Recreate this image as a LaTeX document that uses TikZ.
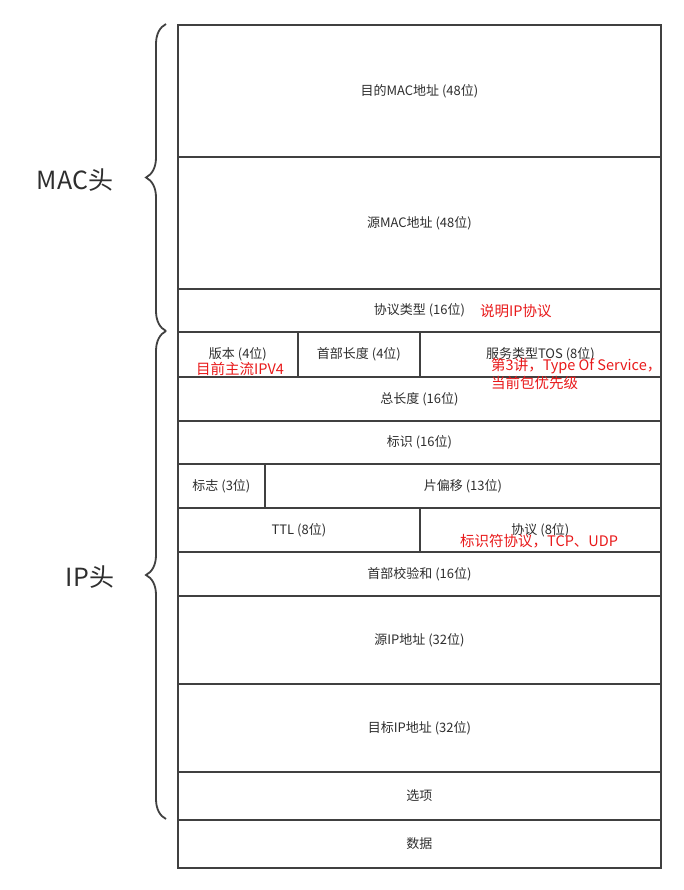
\documentclass[tikz,border=0pt]{standalone}
\usepackage{fontspec}
\setmainfont{Noto Sans CJK SC}
\usetikzlibrary{decorations.pathreplacing}
\definecolor{lineg}{HTML}{404040}
\definecolor{txtg}{HTML}{2E2E2E}
\definecolor{annred}{HTML}{E8191A}
\begin{document}
\begin{tikzpicture}[x=1pt,y=1pt,
  field/.style={draw=lineg, line width=1.8pt, anchor=north west, inner sep=0pt,
    font=\fontsize{13}{15}\selectfont, text=txtg},
  ann/.style={anchor=west, inner sep=0pt, text=annred, font=\fontsize{14.5}{18}\selectfont, align=left},
  hdr/.style={text=txtg, font=\fontsize{25}{29}\selectfont, inner sep=0pt},
  bracestyle/.style={draw=lineg, line width=1.8pt, decorate, decoration={brace, amplitude=20pt}}]
\useasboundingbox (0,0) rectangle (684,-890);
% fields
\node[field, minimum width=483pt, minimum height=132pt] (dmac) at (177,-24) {目的MAC地址 (48位)};
\node[field, minimum width=483pt, minimum height=132pt] (smac) at (177,-156) {源MAC地址 (48位)};
\node[field, minimum width=483pt, minimum height=43pt] (ptype) at (177,-288) {协议类型 (16位)};
\node[field, minimum width=120pt, minimum height=45pt] (ver) at (177,-331) {版本 (4位)};
\node[field, minimum width=122pt, minimum height=45pt] (hlen) at (297,-331) {首部长度 (4位)};
\node[field, minimum width=241pt, minimum height=45pt] (tos) at (419,-331) {服务类型TOS (8位)};
\node[field, minimum width=483pt, minimum height=44pt] (tlen) at (177,-376) {总长度 (16位)};
\node[field, minimum width=483pt, minimum height=43pt] (ident) at (177,-420) {标识 (16位)};
\node[field, minimum width=87pt, minimum height=44pt] (flag) at (177,-463) {标志 (3位)};
\node[field, minimum width=396pt, minimum height=44pt] (frag) at (264,-463) {片偏移 (13位)};
\node[field, minimum width=242pt, minimum height=44pt] (ttl) at (177,-507) {TTL (8位)};
\node[field, minimum width=241pt, minimum height=44pt] (proto) at (419,-507) {协议 (8位)};
\node[field, minimum width=483pt, minimum height=44pt] (csum) at (177,-551) {首部校验和 (16位)};
\node[field, minimum width=483pt, minimum height=88pt] (sip) at (177,-595) {源IP地址 (32位)};
\node[field, minimum width=483pt, minimum height=88pt] (dip) at (177,-683) {目标IP地址 (32位)};
\node[field, minimum width=483pt, minimum height=48pt] (opt) at (177,-771) {选项};
\node[field, minimum width=483pt, minimum height=48pt] (data) at (177,-819) {数据};
% annotations
\node[ann] (a1) at (480,-311) {说明IP协议};
\node[ann] (a2) at (196,-369) {目前主流IPV4};
\node[ann] (a3) at (491,-374) {第3讲，Type Of Service，\\当前包优先级};
\node[ann] (a4) at (460,-541) {标识符协议，TCP、UDP};
% braces
\coordinate (mtop) at (166,-24);
\coordinate (mbot) at (166,-331);
\coordinate (itop) at (166,-331);
\coordinate (ibot) at (166,-819);
\draw[bracestyle] (mbot) -- (mtop);
\draw[bracestyle] (ibot) -- (itop);
\node[hdr] (machdr) at (75,-180) {MAC头};
\node[hdr] (iphdr) at (90,-577) {IP头};
\end{tikzpicture}
\end{document}
